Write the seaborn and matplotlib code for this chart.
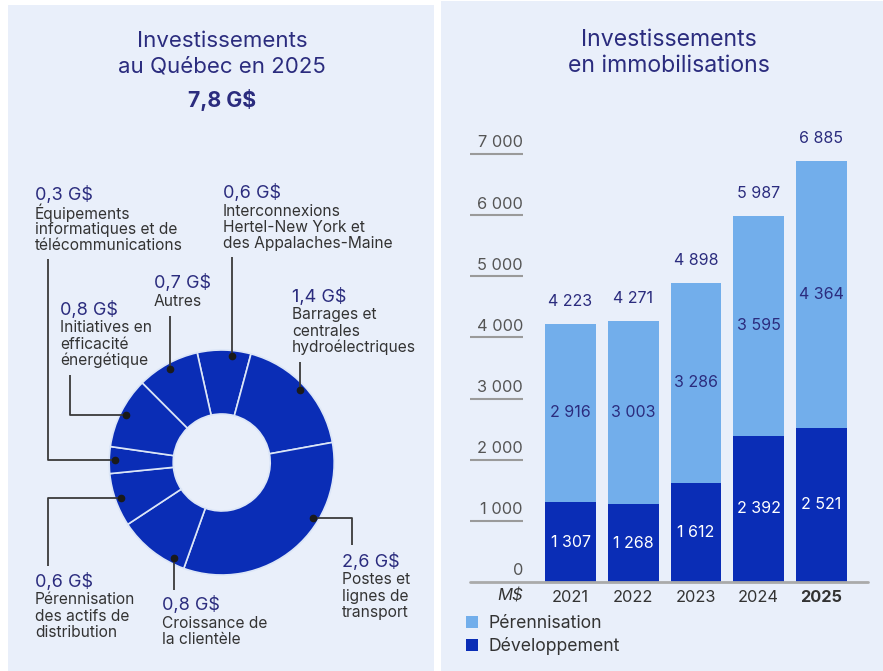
import numpy as np
import matplotlib
matplotlib.use("Agg")
import matplotlib.pyplot as plt
from matplotlib.patches import Rectangle
import seaborn as sns

# donut data (G$), in drawing order, clockwise from the top
slice_values = [0.6, 1.4, 2.6, 0.8, 0.6, 0.3, 0.8, 0.7]
slice_names = [
    "Interconnexions\nHertel-New York et\ndes Appalaches-Maine",
    "Barrages et\ncentrales\nhydroélectriques",
    "Postes et\nlignes de\ntransport",
    "Croissance de\nla clientèle",
    "Pérennisation\ndes actifs de\ndistribution",
    "Équipements\ninformatiques et de\ntélécommunications",
    "Initiatives en\nefficacité\nénergétique",
    "Autres",
]
total_label = "7,8 G$"

# bar data (M$)
years = ["2021", "2022", "2023", "2024", "2025"]
developpement = [1307, 1268, 1612, 2392, 2521]
perennisation = [2916, 3003, 3286, 3595, 4364]
y_ticks = [0, 1000, 2000, 3000, 4000, 5000, 6000, 7000]

BG = "#E9EFFA"
DARK = "#0A2DB6"
LIGHT = "#72AEEB"
NAVY = "#2B2C7E"
TXT = "#333333"

sns.set_theme(style="white")
plt.rcParams["font.family"] = ["Inter", "DejaVu Sans"]

W, H = 883, 671
fig = plt.figure(figsize=(W / 100, H / 100), dpi=100)
fig.patch.set_facecolor("white")

# background axes in pixel units (y downward)
ax0 = fig.add_axes([0, 0, 1, 1])
ax0.add_patch(Rectangle((8, 5), 426, 670, facecolor=BG, edgecolor="none"))
ax0.add_patch(Rectangle((441, 1), 442, 674, facecolor=BG, edgecolor="none"))

# donut
cx, cy, R = 221.7, 462.5, 112.5
wedges, _ = ax0.pie(
    slice_values,
    radius=R,
    center=(cx, cy),
    startangle=-102.6,
    counterclock=True,
    colors=[DARK] * len(slice_values),
    wedgeprops=dict(width=64, edgecolor="#DCE6F7", linewidth=1.2),
)
ax0.set_xlim(0, W)
ax0.set_ylim(H, 0)
ax0.axis("off")

# label layout: x, value y, leader end y, elbow x, angle nudge
layout = [
    (223, 193, 257, None, 4.4),
    (292, 297, 362, None, 0),
    (342, 562, 545, 352, -18.5),
    (162, 605, 590, None, -11.4),
    (35, 582, 566, 47.5, 0),
    (35, 195, 259, 47.5, 0),
    (60, 310, 375, 70, 0),
    (154, 283, 316, None, 0),
]

for w, v, name, (lx, ly, ey, ex, nudge) in zip(wedges, slice_values, slice_names, layout):
    ang = np.deg2rad((w.theta1 + w.theta2) / 2 + nudge)
    dx = cx + 107 * np.cos(ang)
    dy = cy + 107 * np.sin(ang)
    if ex is None:
        xs, ys = [dx, dx], [dy, ey]
    else:
        xs, ys = [dx, ex, ex], [dy, dy, ey]
    ax0.plot(xs, ys, color="#3a3a3a", lw=1.3, solid_capstyle="butt")
    ax0.plot(dx, dy, "o", color="#1a1a1a", ms=4.5)
    ax0.text(lx, ly, f"{v:.1f}".replace(".", ",") + " G$", color=NAVY,
             fontsize=13, va="center", ha="left")
    for i, line in enumerate(name.split("\n")):
        ax0.text(lx, ly + 18 + i * 16.3, line, color=TXT, fontsize=11.2,
                 va="center", ha="left")

# titles
ax0.text(222, 41, "Investissements", color=NAVY, fontsize=16, ha="center", va="center")
ax0.text(222, 66, "au Québec en 2025", color=NAVY, fontsize=16, ha="center", va="center")
ax0.text(222, 100, total_label, color=NAVY, fontsize=15.3, fontweight="bold", ha="center", va="center")
ax0.text(669, 40, "Investissements", color=NAVY, fontsize=16.6, ha="center", va="center")
ax0.text(669, 66, "en immobilisations", color=NAVY, fontsize=16.6, ha="center", va="center")

# stacked bars
totals = [d + p for d, p in zip(developpement, perennisation)]
axb = fig.add_axes([470 / W, (H - 582) / H, 398 / W, 428 / H])
axb.set_facecolor("none")
sns.barplot(x=years, y=totals, color=LIGHT, saturation=1, width=0.81,
            linewidth=0, label="Pérennisation", ax=axb)
sns.barplot(x=years, y=developpement, color=DARK, saturation=1, width=0.81,
            linewidth=0, label="Développement", ax=axb)

x0, x1 = -1.603, 4.745
axb.set_xlim(x0, x1)
axb.set_ylim(0, 7000)
sns.despine(ax=axb, left=True, bottom=True)
axb.set_yticks([])
axb.set_xlabel("")
axb.set_ylabel("")
axb.axhline(0, color="#AAAAAA", lw=2, clip_on=False, zorder=5)

lab_x = -0.758
for t in y_ticks:
    if t > 0:
        axb.hlines(t, x0, lab_x, color="#9A9A9A", lw=1.5, clip_on=False)
    axb.annotate(f"{t:,}".replace(",", " "), (lab_x, t), xytext=(0, 8),
                 textcoords="offset points", ha="right", va="center",
                 color="#555555", fontsize=11.8, annotation_clip=False)

fmt = lambda n: f"{n:,}".replace(",", " ")
for i, (d, p, tot) in enumerate(zip(developpement, perennisation, totals)):
    axb.text(i, d / 2, fmt(d), color="white", fontsize=11.5, ha="center", va="center")
    axb.text(i, d + p / 2, fmt(p), color=NAVY, fontsize=11.5, ha="center", va="center")
    axb.annotate(fmt(tot), (i, tot), xytext=(0, 16), textcoords="offset points",
                 color=NAVY, fontsize=11.5, ha="center", va="center",
                 annotation_clip=False)

axb.tick_params(axis="x", length=0, pad=6, labelsize=11.8, labelcolor="#333333")
for lbl in axb.get_xticklabels():
    if lbl.get_text() == years[-1]:
        lbl.set_fontweight("bold")
axb.annotate("M$", (lab_x, 0), xytext=(0, -10), textcoords="offset points",
             ha="right", va="center", fontsize=12, fontstyle="italic",
             color="#333333", annotation_clip=False)

axb.legend(loc="upper left", bbox_to_anchor=(466 / W, (H - 615) / H),
           bbox_transform=fig.transFigure, frameon=False, fontsize=12.7,
           handlelength=0.7, handleheight=0.7, handletextpad=0.55,
           labelspacing=0.3, borderpad=0, borderaxespad=0, labelcolor="#333333")

fig.savefig("out.png", dpi=100, facecolor="white")
